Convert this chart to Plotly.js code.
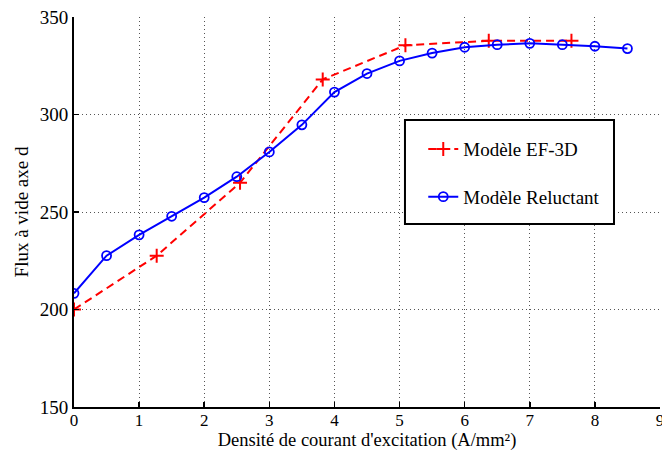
<!DOCTYPE html>
<html>
<head>
<meta charset="utf-8">
<script src="https://cdn.plot.ly/plotly-3.0.1.min.js"></script>
<style>html,body{margin:0;padding:0;background:#fff;}#chart{width:662px;height:454px;}</style>
</head>
<body>
<div id="chart"></div>
<script>
// Data
const efX = [0, 1.27, 2.55, 3.82, 5.09, 6.37, 7.64];
const efY = [200, 227.6, 265, 318, 335.5, 337.8, 337.8];
const relX = [0, 0.5, 1, 1.5, 2, 2.5, 3, 3.5, 4, 4.5, 5, 5.5, 6, 6.5, 7, 7.5, 8, 8.5];
const relY = [208.3, 227.6, 238.3, 247.8, 257.4, 268.1, 280.8, 294.7, 311.5, 321, 327.5, 331.5, 334.5, 335.8, 336.5, 335.8, 335, 333.8];
const seriesNames = ["Modèle EF-3D", "Modèle Reluctant"];
const xTicks = [0, 1, 2, 3, 4, 5, 6, 7, 8, 9];
const yTicks = [150, 200, 250, 300, 350];
const xTitle = "Densité de courant d'excitation (A/mm²)";
const yTitle = "Flux à vide axe d";

const serif = "'Liberation Serif', 'Times New Roman', serif";

const traces = [
  {
    x: efX, y: efY, name: seriesNames[0], mode: 'lines+markers', legendgroup: 'a',
    line: {color: '#ff0000', width: 2, dash: '8px,5px'},
    marker: {symbol: 'cross-thin-open', size: 10, color: '#ff0000', line: {color: '#ff0000', width: 2}}
  },
  {
    x: relX, y: relY, name: seriesNames[1], mode: 'lines+markers', legendgroup: 'b',
    line: {color: '#0000ff', width: 2},
    marker: {symbol: 'circle-open', size: 9, color: '#0000ff', line: {color: '#0000ff', width: 1.8}}
  }
];

const layout = {
  width: 662, height: 454,
  margin: {l: 74, r: 2, t: 17, b: 47},
  paper_bgcolor: '#fff', plot_bgcolor: '#fff',
  showlegend: true,
  font: {family: serif, color: '#000', size: 19},
  xaxis: {
    range: [0, 9], tickvals: xTicks, ticktext: xTicks.map(String),
    showline: true, linecolor: '#000', linewidth: 2,
    ticks: 'inside', ticklen: 5, tickwidth: 1.5, tickcolor: '#000',
    showgrid: true, gridcolor: '#555', griddash: '1px,3px', gridwidth: 1,
    zeroline: false, ticklabeloverflow: 'allow', ticklabelstandoff: -3,
    tickfont: {family: serif, size: 17, color: '#000'},
    title: {text: xTitle, font: {family: serif, size: 18.5, color: '#000'}, standoff: 2}
  },
  yaxis: {
    range: [150, 350], tickvals: yTicks, ticktext: yTicks.map(String),
    showline: true, linecolor: '#000', linewidth: 2,
    ticks: 'inside', ticklen: 5, tickwidth: 1.5, tickcolor: '#000',
    showgrid: true, gridcolor: '#555', griddash: '1px,3px', gridwidth: 1,
    zeroline: false, ticklabeloverflow: 'allow',
    tickfont: {family: serif, size: 19, color: '#000'},
    title: {text: yTitle, font: {family: serif, size: 19, color: '#000'}, standoff: 6}
  },
  shapes: [{
    type: 'rect', xref: 'paper', yref: 'paper',
    x0: 0.5648, x1: 0.9215, y0: 0.4692, y1: 0.7359,
    line: {color: '#000', width: 2}, fillcolor: '#fff', layer: 'above'
  }],
  legend: {
    x: 0.596, y: 0.71, xanchor: 'left', yanchor: 'top',
    bgcolor: 'rgba(0,0,0,0)', borderwidth: 0,
    font: {family: serif, size: 19, color: '#000'},
    tracegroupgap: 20, traceorder: 'grouped'
  }
};

Plotly.newPlot('chart', traces, layout, {displayModeBar: false, staticPlot: true});
</script>
</body>
</html>
